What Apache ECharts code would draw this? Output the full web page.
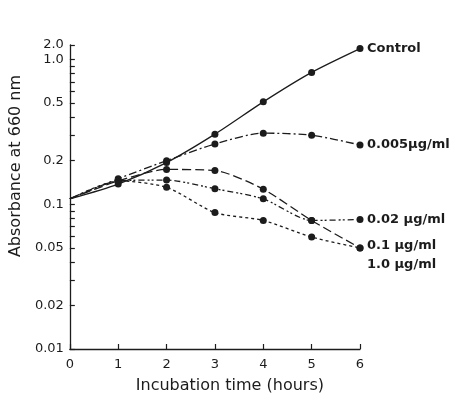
<!DOCTYPE html>
<html>
<head>
<meta charset="utf-8">
<script src="https://cdn.jsdelivr.net/npm/echarts@6/dist/echarts.min.js"></script>
<style>
  html, body { margin: 0; padding: 0; background: #fff; }
  #chart { width: 449px; height: 399px; }
</style>
</head>
<body>
<div id="chart"></div>
<script>
// Incubation time (hours)
const hours = [0, 1, 2, 3, 4, 5, 6];

// Absorbance at 660 nm for each culture
const control = [0.109, 0.138, 0.194, 0.305, 0.51, 0.815, 1.19];
const dose0005 = [0.109, 0.15, 0.2, 0.261, 0.31, 0.30, 0.257];
const dose002 = [0.109, 0.145, 0.147, 0.128, 0.109, 0.0773, 0.0785];
const dose01 = [0.109, 0.145, 0.174, 0.171, 0.127, 0.0773, 0.0499];
const dose10 = [0.109, 0.145, 0.131, 0.0876, 0.0773, 0.0593, 0.0499];

const seriesNames = ['Control', '0.005µg/ml', '0.02 µg/ml', '0.1 µg/ml', '1.0 µg/ml'];

// Log axis ticks
const yTickValues = [0.01, 0.02, 0.05, 0.1, 0.2, 0.5, 1.0];
const yTickLabels = ['0.01', '0.02', '0.05', '0.1', '0.2', '0.5', '1.0'];
const yMinorValues = [0.03, 0.04, 0.06, 0.07, 0.08, 0.09, 0.3, 0.4, 0.6, 0.7, 0.8, 0.9];
// the printed axis marks its upper end "2.0"
const yTop = 1.26;
const yTopLabel = '2.0';

const INK = '#1c1c1c';
const FONT = 'DejaVu Sans';

function points(vals) {
  return hours.map((h, i) =>
    i === 0 ? { value: [h, vals[i]], symbol: 'none' } : [h, vals[i]]);
}

function curve(name, vals, dash, labelDy, z) {
  return {
    type: 'line',
    name: name,
    data: points(vals),
    smooth: 0.25,
    symbol: 'circle',
    symbolSize: 7,
    z: z,
    itemStyle: { color: INK },
    lineStyle: { color: INK, width: 1.3, type: dash },
    endLabel: {
      show: true,
      formatter: name,
      color: INK,
      fontFamily: FONT,
      fontSize: 13,
      fontWeight: 'bold',
      distance: 7,
      offset: [0, labelDy]
    },
    emphasis: { disabled: true }
  };
}

function yLabel(v) {
  if (Math.abs(Math.log(v / yTop)) < 1e-6) return yTopLabel;
  for (let i = 0; i < yTickValues.length; i++) {
    if (Math.abs(Math.log(v / yTickValues[i])) < 1e-6) return yTickLabels[i];
  }
  return '';
}

const chart = echarts.init(document.getElementById('chart'), null, { renderer: 'canvas' });
chart.setOption({
  animation: false,
  backgroundColor: '#fff',
  grid: { left: 63, right: 89, top: 45, bottom: 44, containLabel: false },
  xAxis: {
    type: 'value',
    min: 0,
    max: 6,
    interval: 1,
    name: 'Incubation time (hours)',
    nameLocation: 'middle',
    nameGap: 29,
    nameTextStyle: { color: INK, fontFamily: FONT, fontSize: 16, padding: [0, 0, 0, 30] },
    axisLine: { lineStyle: { color: INK, width: 1.3 } },
    axisTick: { inside: true, length: 5, lineStyle: { color: INK, width: 1.2 } },
    axisLabel: { color: INK, fontFamily: FONT, fontSize: 13, margin: 9 },
    splitLine: { show: false }
  },
  yAxis: {
    type: 'log',
    logBase: 10,
    min: 0.01,
    max: yTop,
    name: 'Absorbance at 660 nm',
    nameLocation: 'middle',
    nameGap: 36,
    nameTextStyle: { color: INK, fontFamily: FONT, fontSize: 16, padding: [0, 0, 0, 62] },
    axisLine: { show: true, lineStyle: { color: INK, width: 1.3 } },
    axisTick: {
      inside: true,
      length: 5,
      customValues: yTickValues.concat(yMinorValues, [yTop]),
      lineStyle: { color: INK, width: 1.2 }
    },
    axisLabel: {
      color: INK,
      fontFamily: FONT,
      fontSize: 13,
      margin: 6,
      customValues: yTickValues.concat([yTop]),
      formatter: yLabel
    },
    splitLine: { show: false }
  },
  series: [
    curve(seriesNames[0], control, 'solid', 0, 5),
    curve(seriesNames[1], dose0005, [8, 3, 2, 3], 0, 4),
    curve(seriesNames[2], dose002, [6, 3, 2, 2, 2, 3], 0, 3),
    curve(seriesNames[3], dose01, [9, 4], -2, 2),
    curve(seriesNames[4], dose10, [3, 3], 17, 1)
  ]
});
</script>
</body>
</html>
